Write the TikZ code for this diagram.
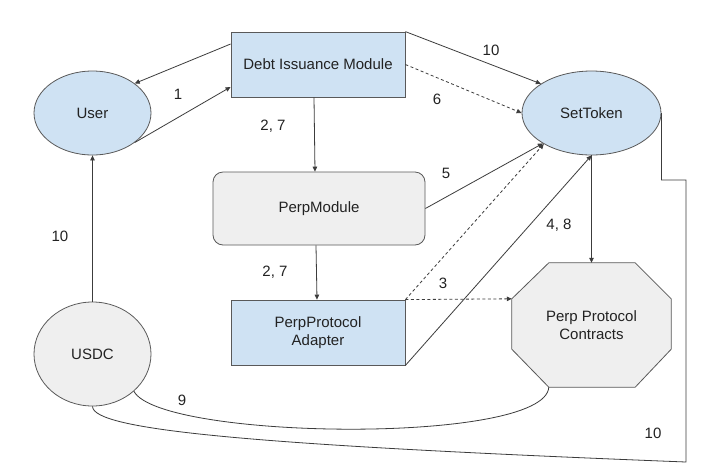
\documentclass[tikz,border=0pt]{standalone}
\usepackage{fontspec}
\setmainfont{Liberation Sans}
\usetikzlibrary{shapes.geometric,arrows.meta,calc,backgrounds}
\definecolor{nodeblue}{HTML}{CFE2F3}
\definecolor{nodegray}{HTML}{EFEFEF}
\definecolor{bordergray}{HTML}{595959}
\definecolor{linegray}{HTML}{3C3C3C}
\definecolor{textgray}{HTML}{222222}
\begin{document}
\begin{tikzpicture}[x=1pt,y=-1pt,
  every node/.style={font=\fontsize{15}{17.5}\selectfont, text=textgray},
  blueell/.style={ellipse, draw=bordergray, fill=nodeblue, line width=0.8pt, inner sep=0pt},
  grayell/.style={ellipse, draw=bordergray, fill=nodegray, line width=0.8pt, inner sep=0pt},
  bluebox/.style={rectangle, draw=bordergray, fill=nodeblue, line width=0.8pt, inner sep=0pt, align=center},
  graybox/.style={rectangle, draw=bordergray, fill=nodegray, line width=0.8pt, inner sep=0pt, align=center},
  conn/.style={draw=linegray, line width=0.8pt},
  arr/.style={conn, -{Triangle[length=5pt,width=4.5pt]}},
  dconn/.style={arr, dash pattern=on 3pt off 2.5pt},
  lbl/.style={inner sep=0pt}
]
\useasboundingbox (0,0) rectangle (721,467);

% nodes
\node[blueell, minimum width=117pt, minimum height=84pt] (User) at (92.5,113) {User};
\node[blueell, minimum width=139pt, minimum height=84pt] (ST) at (591.5,113) {SetToken};
\node[grayell, minimum width=117pt, minimum height=104pt] (USDC) at (92.5,354) {USDC};
\node[bluebox, minimum width=174pt, minimum height=65pt] (DIM) at (318,64.5) {Debt Issuance Module};
\node[graybox, rounded corners=10pt, minimum width=212pt, minimum height=73pt] (PM) at (319,208.5) {PerpModule};
\node[bluebox, minimum width=174pt, minimum height=65pt] (PPA) at (318,332.5) {PerpProtocol\\Adapter};
\node[align=center, minimum width=159pt, minimum height=124pt, inner sep=0pt] (PPC) at (591.5,325) {Perp Protocol\\Contracts};
\coordinate (PPCw) at ($(PPC.north west)+(0,36)$);
\coordinate (PPCsw) at ($(PPC.south west)+(37,0)$);
\begin{pgfonlayer}{background}
\fill[white] (0,0) rectangle (721,467);
\filldraw[draw=bordergray, fill=nodegray, line width=0.8pt]
  ($(PPC.north west)+(37,0)$) -- ($(PPC.north east)+(-36,0)$) -- ($(PPC.north east)+(0,36)$)
  -- ($(PPC.south east)+(0,-38)$) -- ($(PPC.south east)+(-36,0)$) -- (PPCsw)
  -- ($(PPC.south west)+(0,-38)$) -- (PPCw) -- cycle;
\end{pgfonlayer}

% connectors
\draw[arr] ([yshift=20.5pt]DIM.west) -- (User.35);
\draw[arr] (User.-35) -- ([yshift=-22.5pt]DIM.west);
\draw[arr] ([xshift=-4pt]DIM.south) -- ([xshift=-4pt]PM.north);
\draw[arr] ([xshift=-3pt]PM.south) -- ([xshift=-1pt]PPA.north);
\draw[arr] (USDC.north) -- (User.south);
\draw[arr] (DIM.north east) -- (ST.150);
\draw[dconn] (DIM.east) -- (ST.west);
\draw[arr] (PM.east) -- (ST.212);
\draw[dconn] (PPA.north east) -- (ST.213);
\draw[dconn] (PPA.north east) -- (PPCw);
\draw[arr] (PPA.south east) -- (ST.south);
\draw[arr] (ST.south) -- (PPC.north);
\draw[conn] (USDC.-42) .. controls (160,440) and (545,445) .. (PPCsw);
\coordinate (c10) at (686,462);
\draw[conn] (USDC.south) .. controls (93,430) and (250,445) .. (c10) |- ($(ST.east)+(0,67)$) -- (ST.east);

% labels
\node[lbl] (l1) at (178,94) {1};
\node[lbl] (l27a) at (273,126) {2, 7};
\node[lbl] (l27b) at (275,272) {2, 7};
\node[lbl] (l10a) at (60,236) {10};
\node[lbl] (l10b) at (491,50) {10};
\node[lbl] (l6) at (437,99) {6};
\node[lbl] (l5) at (446,173) {5};
\node[lbl] (l3) at (443,283) {3};
\node[lbl] (l48) at (559,225) {4, 8};
\node[lbl] (l9) at (182,400) {9};
\node[lbl] (l10c) at (653,433) {10};
\end{tikzpicture}
\end{document}
